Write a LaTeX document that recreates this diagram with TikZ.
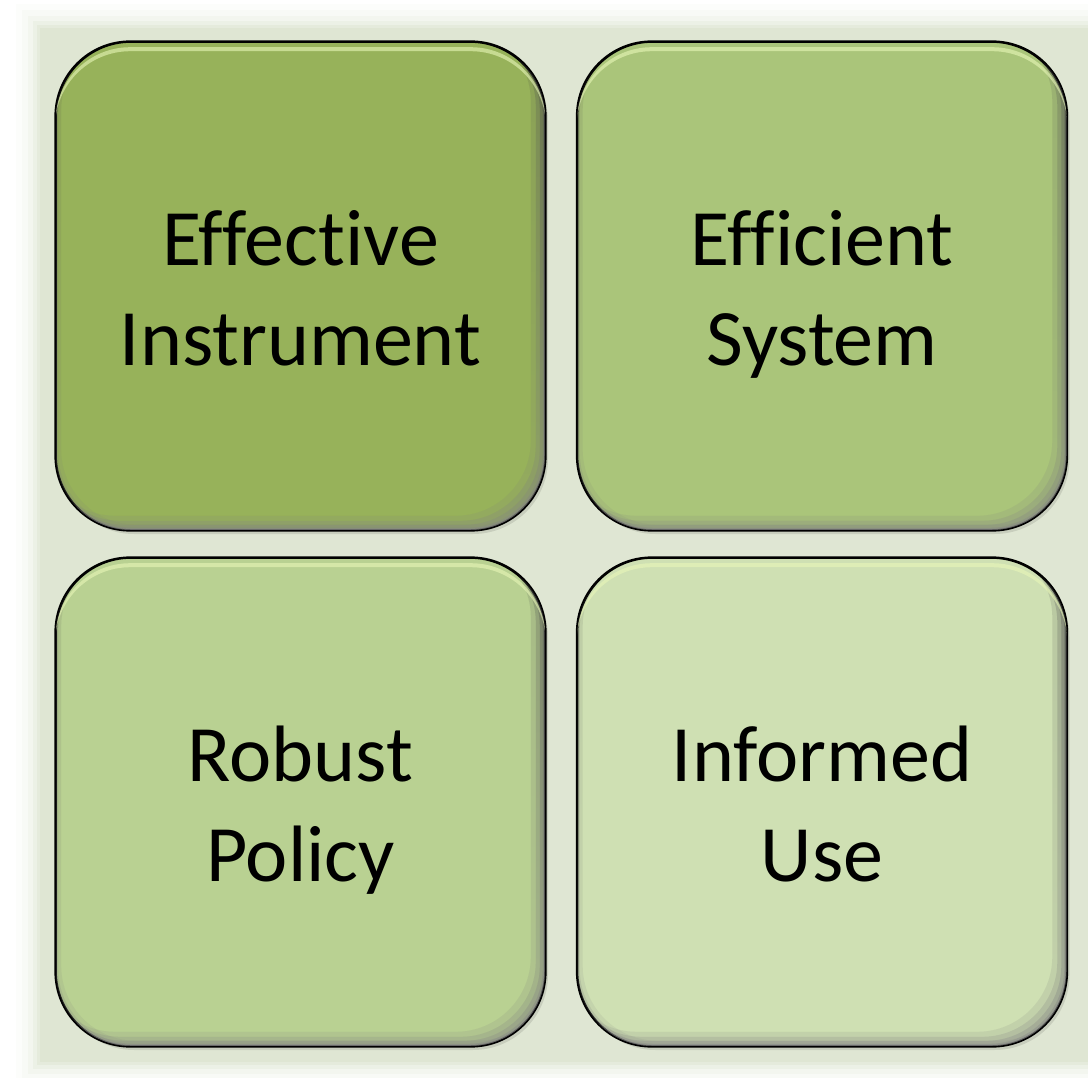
\documentclass[tikz,border=0pt]{standalone}
\usepackage{fontspec}
\setmainfont{Carlito}[RawFeature={-liga;-dlig;-clig}]
\definecolor{cTL}{HTML}{97B25A}
\definecolor{cTR}{HTML}{AAC57A}
\definecolor{cBL}{HTML}{B9D192}
\definecolor{cBR}{HTML}{CFE0B3}
\definecolor{bgc}{HTML}{DFE6D3}
\definecolor{shade}{HTML}{2E3A14}
\definecolor{hilite}{HTML}{E8F7B8}
\newcommand\tiletext[2]{\rule{0pt}{80pt}#1\\#2\rule[-22pt]{0pt}{22pt}}
\tikzset{
  tile/.style={draw=black, line width=1.6pt, rounded corners=75pt,
    minimum width=489pt, minimum height=488pt, align=center,
    inner sep=0pt, font=\fontsize{80}{100}\selectfont, text=black},
}
\newcommand\tilebevel[1]{%
  \begin{scope}
    \clip[rounded corners=75pt] (#1.south west) rectangle (#1.north east);
    \foreach \s/\op in {3/0.22,6/0.16,10/0.12,15/0.08}{
      \fill[shade, opacity=\op, even odd rule, rounded corners=75pt]
        (#1.south west) rectangle (#1.north east)
        ([shift={(-\s,-\s)}]#1.south west) rectangle ([shift={(-\s,-\s)}]#1.north east);
    }
    \foreach \s/\op in {3/0.10,6/0.06}{
      \fill[shade, opacity=\op, even odd rule, rounded corners=75pt]
        (#1.south west) rectangle (#1.north east)
        ([shift={(\s,-\s)}]#1.south west) rectangle ([shift={(\s,-\s)}]#1.north east);
    }
    \fill[hilite, opacity=0.6, even odd rule, rounded corners=75pt]
      ([shift={(0,6)}]#1.south west) rectangle ([shift={(0,6)}]#1.north east)
      ([shift={(0,10)}]#1.south west) rectangle ([shift={(0,10)}]#1.north east);
  \end{scope}
  \draw[black, line width=1.6pt, rounded corners=75pt] (#1.south west) rectangle (#1.north east);
}
\begin{document}
\begin{tikzpicture}[x=1pt, y=-1pt]
  \useasboundingbox (0,0) rectangle (1088,1078);
  \fill[white] (0,0) rectangle (1088,1078);
  % soft edge of the background panel
  \foreach \e/\op in {24/0.08,18/0.12,12/0.2,7/0.3,3/0.5}{
    \fill[bgc, opacity=\op] (40-\e,28-\e) rectangle (1088,1062+\e);
  }
  \fill[bgc] (40,28) rectangle (1088,1062);
  % drop shadows
  \foreach \cx/\cy in {300.5/286, 822/286, 300.5/802, 822/802}{
    \fill[black, opacity=0.10, rounded corners=75pt]
      (\cx-244.5+3,\cy-244+4) rectangle (\cx+244.5+3,\cy+244+4);
  }
  \node[tile, fill=cTL] (ei) at (300.5,286) {\tiletext{Effective}{Instrument}};
  \node[tile, fill=cTR] (es) at (822,286) {\tiletext{Efficient}{System}};
  \node[tile, fill=cBL] (rp) at (300.5,802) {\tiletext{Robust}{Policy}};
  \node[tile, fill=cBR] (iu) at (822,802) {\tiletext{Informed}{Use}};
  \tilebevel{ei}
  \tilebevel{es}
  \tilebevel{rp}
  \tilebevel{iu}
\end{tikzpicture}
\end{document}
